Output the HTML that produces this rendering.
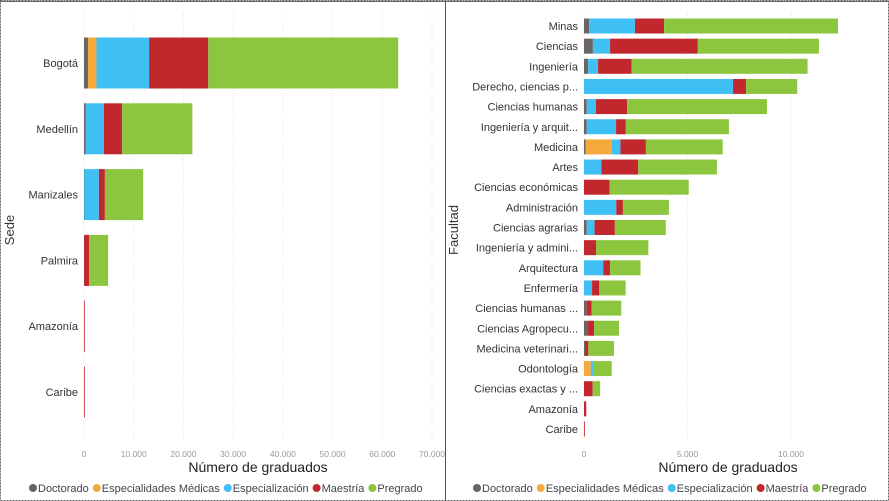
<!DOCTYPE html>
<html><head><meta charset="utf-8">
<style>
html,body{margin:0;padding:0;background:#fff;}
svg{display:block;font-family:"Liberation Sans",sans-serif;}
</style></head>
<body>
<svg id="chart" width="889" height="501" viewBox="0 0 889 501" xmlns="http://www.w3.org/2000/svg">
  <rect x="0.5" y="0.5" width="888" height="500" fill="#fff" stroke="#666" stroke-dasharray="2,1"/>
  <line x1="445.5" y1="0" x2="445.5" y2="501" stroke="#555" stroke-width="1"/>
  <line x1="0" y1="1.5" x2="889" y2="1.5" stroke="#666"/>
  <g id="left"></g>
  <g id="right"></g>
  <text x="14" y="230" transform="rotate(-90 14 230)" text-anchor="middle" font-size="13" fill="#333">Sede</text>
  <text x="458" y="230" transform="rotate(-90 458 230)" text-anchor="middle" font-size="13" fill="#333">Facultad</text>
  <text x="258" y="472" text-anchor="middle" font-size="14" fill="#222">Número de graduados</text>
  <text x="728" y="472" text-anchor="middle" font-size="14" fill="#222">Número de graduados</text>
</svg>
<script>
const seriesNames = ["Doctorado","Especialidades Médicas","Especialización","Maestría","Pregrado"];
const colors = ["#6b6466","#f5a93a","#3fc0f5","#c1272d","#8cc63f"];

const sedeCats = ["Bogotá","Medellín","Manizales","Palmira","Amazonía","Caribe"];
const sedeDoct = [800,300,50,50,0,0];
const sedeEspMed = [1700,0,0,0,0,0];
const sedeEsp = [10600,3700,2950,0,0,0];
const sedeMaes = [11900,3670,1200,1000,150,50];
const sedePreg = [38200,14130,7700,3800,0,0];
const sedeTicks = [0,10000,20000,30000,40000,50000,60000,70000];
const sedeTickLabels = ["0","10.000","20.000","30.000","40.000","50.000","60.000","70.000"];

const facCats = ["Minas","Ciencias","Ingeniería","Derecho, ciencias p...","Ciencias humanas","Ingeniería y arquit...","Medicina","Artes","Ciencias económicas","Administración","Ciencias agrarias","Ingeniería y admini...","Arquitectura","Enfermería","Ciencias humanas ...","Ciencias Agropecu...","Medicina veterinari...","Odontología","Ciencias exactas y ...","Amazonía","Caribe"];
const facDoct = [250,430,200,0,130,130,80,0,0,0,130,0,0,0,130,160,50,0,0,0,0];
const facEspMed = [0,0,0,0,0,0,1260,0,0,0,0,0,0,0,0,0,0,330,0,0,0];
const facEsp = [2210,830,480,7200,450,1420,420,840,0,1560,380,0,930,390,0,0,0,140,0,0,0];
const facMaes = [1410,4240,1620,630,1500,470,1230,1780,1240,320,980,580,330,350,240,330,160,0,420,110,40];
const facPreg = [8400,5850,8500,2470,6760,4980,3710,3800,3820,2220,2460,2530,1470,1270,1430,1200,1240,870,360,0,0];
const facTicks = [0,5000,10000];
const facTickLabels = ["0","5.000","10.000"];

const NS = "http://www.w3.org/2000/svg";
function mk(tag, attrs, parent){const e=document.createElementNS(NS,tag);for(const k in attrs)e.setAttribute(k,attrs[k]);parent.appendChild(e);return e;}

function drawChart(g, cats, series, ticks, tickLabels, x0, x1, maxV, yTop, step, barH, labelSize, plotTop, plotBot){
  const xs = v => x0 + v/maxV*(x1-x0);
  ticks.forEach((t,i)=>{
    const gl = mk("line",{x1:xs(t),x2:xs(t),y1:plotTop,y2:plotBot,stroke:"#e3e3e3","stroke-dasharray":"1,2"},g);
    
    
    const tl = mk("text",{x:xs(t),y:457,"text-anchor":"middle","font-size":"8.5",fill:"#999"},g);
    tl.textContent = tickLabels[i];
    
    
  });
  cats.forEach((c,i)=>{
    const cy = yTop + i*step;
    const lab = mk("text",{x:x0-6,y:cy+4,"text-anchor":"end","font-size":labelSize,fill:"#333"},g);
    lab.textContent = c;
    
    
    let acc = 0;
    series.forEach((s,si)=>{
      const v = s[i];
      if(v<=0) return;
      const r = mk("rect",{x:xs(acc),y:cy-barH/2,width:Math.max(xs(acc+v)-xs(acc),0.8),height:barH,fill:colors[si]},g);
      
      
      acc += v;
    });
  });
}

drawChart(document.getElementById("left"), sedeCats, [sedeDoct,sedeEspMed,sedeEsp,sedeMaes,sedePreg], sedeTicks, sedeTickLabels, 84, 432, 70000, 63, 65.8, 51, 11, 12, 440);
drawChart(document.getElementById("right"), facCats, [facDoct,facEspMed,facEsp,facMaes,facPreg], facTicks, facTickLabels, 584, 791, 10000, 26, 20.15, 15, 11, 12, 440);

function legend(x, y){
  const g = document.getElementById("chart");
  let cx = x;
  seriesNames.forEach((n,i)=>{
    const d = mk("circle",{cx:cx+4,cy:y-4,r:4,fill:colors[i]},g);
    
    
    const t = mk("text",{x:cx+9,y:y,"font-size":"11",fill:"#444"},g);
    t.textContent = n;
    
    
    cx += 9 + t.getComputedTextLength() + 4;
  });
}
legend(29, 492);
legend(473, 492);
</script>
</body></html>
